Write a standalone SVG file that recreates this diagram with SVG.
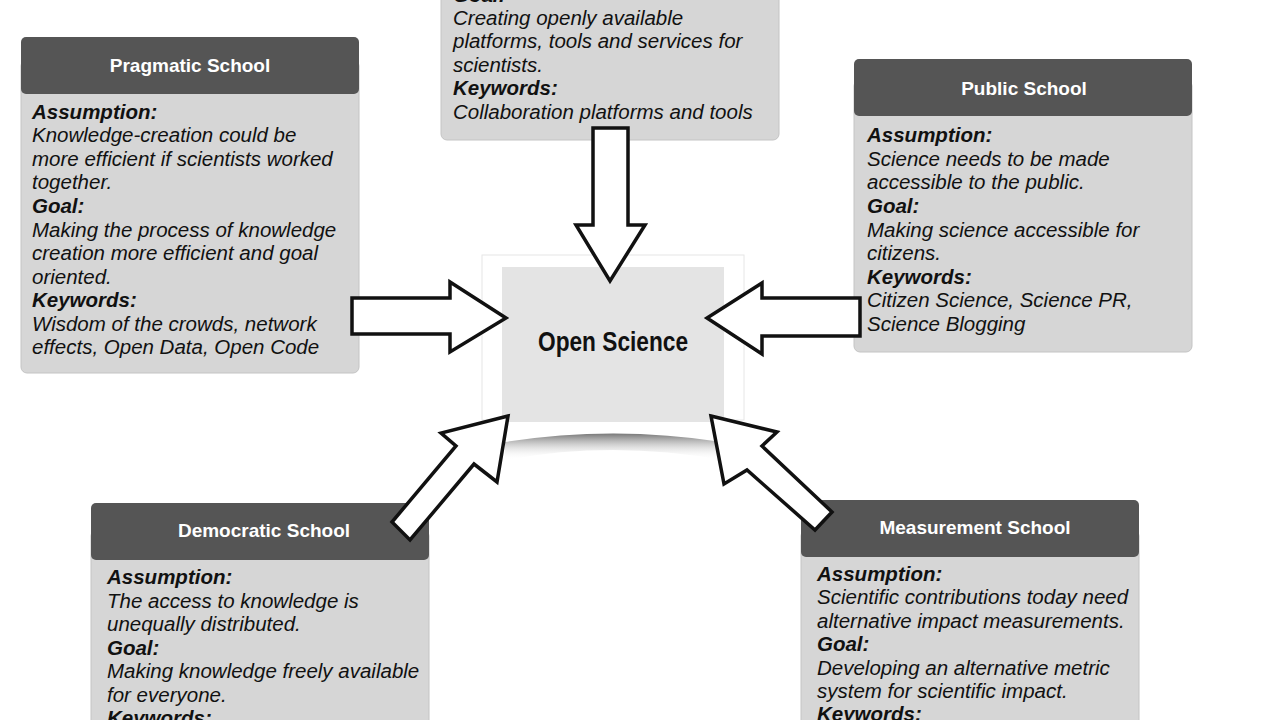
<svg xmlns="http://www.w3.org/2000/svg" width="1280" height="720" viewBox="0 0 1280 720">
<defs>
<style>
.hd{fill:#555}
.bd{fill:#d6d6d6;stroke:#c4c4c4;stroke-width:1}
.ht{font-family:"Liberation Sans",Arial,sans-serif;font-weight:bold;font-size:19px;fill:#fff;text-anchor:middle}
.t{font-family:"Liberation Sans",Arial,sans-serif;font-style:italic;font-size:20.5px;fill:#111}
.b{font-weight:bold}
.ar{fill:#fff;stroke:#111;stroke-width:3.5;stroke-linejoin:miter}
</style>
<linearGradient id="sh" x1="0" y1="0" x2="0" y2="1"><stop offset="0" stop-color="#777"/><stop offset="1" stop-color="#fff" stop-opacity="0"/></linearGradient>
</defs>
<rect width="1280" height="720" fill="#fff"/>
<g id="center">
<rect x="482" y="255" width="262" height="165" fill="#fff" stroke="#e6e6e6"/>
<path d="M505 442 Q613 425 722 442 L722 460 Q613 440 505 460 Z" fill="url(#sh)"/>
<rect x="502" y="267" width="222" height="155" fill="#e4e4e4"/>
<text x="613" y="351" font-family="Liberation Sans Narrow,Liberation Sans,sans-serif" font-weight="bold" font-size="27" text-anchor="middle" fill="#111" textLength="150" lengthAdjust="spacingAndGlyphs">Open Science</text>
</g>
<g id="top">
<rect class="bd" x="441" y="-10" width="338" height="150" rx="6"/>
<text class="t"><tspan class="b" x="453" y="2">Goal:</tspan><tspan x="453" y="25">Creating openly available</tspan><tspan x="453" y="48">platforms, tools and services for</tspan><tspan x="453" y="72">scientists.</tspan><tspan class="b" x="453" y="95">Keywords:</tspan><tspan x="453" y="119">Collaboration platforms and tools</tspan></text>
</g>
<g id="pragmatic">
<rect class="bd" x="21" y="60" width="338" height="313" rx="6"/>
<rect class="hd" x="21" y="37" width="338" height="57" rx="5"/>
<text class="ht" x="190" y="72">Pragmatic School</text>
<text class="t"><tspan class="b" x="32" y="119">Assumption:</tspan><tspan x="32" y="142">Knowledge-creation could be</tspan><tspan x="32" y="166">more efficient if scientists worked</tspan><tspan x="32" y="189">together.</tspan><tspan class="b" x="32" y="213">Goal:</tspan><tspan x="32" y="237">Making the process of knowledge</tspan><tspan x="32" y="260">creation more efficient and goal</tspan><tspan x="32" y="284">oriented.</tspan><tspan class="b" x="32" y="307">Keywords:</tspan><tspan x="32" y="331">Wisdom of the crowds, network</tspan><tspan x="32" y="354">effects, Open Data, Open Code</tspan></text>
</g>
<g id="public">
<rect class="bd" x="854" y="80" width="338" height="272" rx="6"/>
<rect class="hd" x="854" y="59" width="338" height="57" rx="5"/>
<text class="ht" x="1024" y="95">Public School</text>
<text class="t"><tspan class="b" x="867" y="142">Assumption:</tspan><tspan x="867" y="166">Science needs to be made</tspan><tspan x="867" y="189">accessible to the public.</tspan><tspan class="b" x="867" y="213">Goal:</tspan><tspan x="867" y="237">Making science accessible for</tspan><tspan x="867" y="260">citizens.</tspan><tspan class="b" x="867" y="284">Keywords:</tspan><tspan x="867" y="307">Citizen Science, Science PR,</tspan><tspan x="867" y="331">Science Blogging</tspan></text>
</g>
<g id="democratic">
<rect class="bd" x="91" y="530" width="338" height="200" rx="6"/>
<rect class="hd" x="91" y="503" width="338" height="57" rx="5"/>
<text class="ht" x="264" y="537">Democratic School</text>
<text class="t"><tspan class="b" x="107" y="584">Assumption:</tspan><tspan x="107" y="608">The access to knowledge is</tspan><tspan x="107" y="631">unequally distributed.</tspan><tspan class="b" x="107" y="655">Goal:</tspan><tspan x="107" y="678">Making knowledge freely available</tspan><tspan x="107" y="702">for everyone.</tspan><tspan class="b" x="107" y="725">Keywords:</tspan></text>
</g>
<g id="measurement">
<rect class="bd" x="801" y="530" width="338" height="200" rx="6"/>
<rect class="hd" x="801" y="500" width="338" height="57" rx="5"/>
<text class="ht" x="975" y="534">Measurement School</text>
<text class="t"><tspan class="b" x="817" y="581">Assumption:</tspan><tspan x="817" y="604">Scientific contributions today need</tspan><tspan x="817" y="628">alternative impact measurements.</tspan><tspan class="b" x="817" y="651">Goal:</tspan><tspan x="817" y="675">Developing an alternative metric</tspan><tspan x="817" y="698">system for scientific impact.</tspan><tspan class="b" x="817" y="721">Keywords:</tspan></text>
</g>
<g id="connectors">
<polygon class="ar" points="593,128 628,128 628,225 645,225 610,281 576,225 593,225"/>
<polygon class="ar" points="352,298 450,298 450,282 506,318 450,352 450,334 352,334"/>
<polygon class="ar" points="860,298 762,298 762,283 707,318 762,354 762,336 860,336"/>
<polygon class="ar" points="508,416 441,433 456,446 392,522 410,540 474,464 497,482"/>
<polygon class="ar" points="711,416 777,432 762,446 832,512 815,530 747,470 724,484"/>
</g>
</svg>
